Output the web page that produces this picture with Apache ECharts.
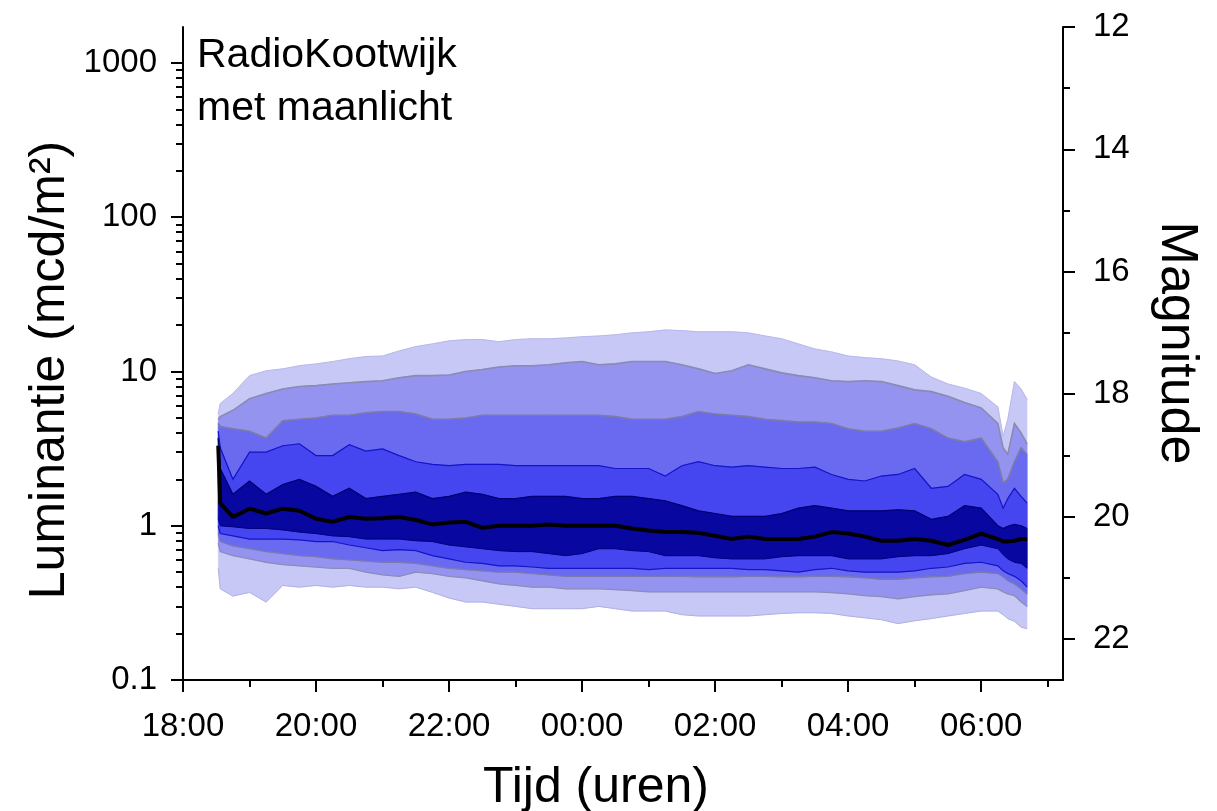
<!DOCTYPE html>
<html><head><meta charset="utf-8">
<script src="https://cdn.jsdelivr.net/npm/echarts@6/dist/echarts.min.js"></script>
<style>html,body{margin:0;padding:0;background:#fff}#c{width:1217px;height:811px}</style>
</head><body><div id="c"></div>
<script>
// time axis: hours after 18:00
const hours = [0.53, 0.56, 0.75, 1.0, 1.25, 1.5, 1.75, 2.0, 2.25, 2.5, 2.75, 3.0, 3.25, 3.5, 3.75, 4.0, 4.25, 4.5, 4.75, 5.0, 5.25, 5.5, 5.75, 6.0, 6.25, 6.5, 6.75, 7.0, 7.25, 7.5, 7.75, 8.0, 8.25, 8.5, 8.75, 9.0, 9.25, 9.5, 9.75, 10.0, 10.25, 10.5, 10.75, 11.0, 11.25, 11.5, 11.75, 12.0, 12.25, 12.33, 12.4, 12.5, 12.6, 12.69];

// luminance band edges (mcd/m2), outer to inner
const bandA_lo = [0.53, 0.39, 0.35, 0.37, 0.32, 0.41, 0.4, 0.41, 0.4, 0.41, 0.4, 0.4, 0.39, 0.4, 0.37, 0.34, 0.32, 0.32, 0.31, 0.3, 0.29, 0.29, 0.29, 0.29, 0.3, 0.29, 0.28, 0.28, 0.28, 0.265, 0.26, 0.26, 0.26, 0.26, 0.265, 0.27, 0.273, 0.273, 0.27, 0.26, 0.253, 0.246, 0.232, 0.242, 0.25, 0.26, 0.27, 0.28, 0.28, 0.265, 0.25, 0.24, 0.22, 0.215];
const bandB_lo = [0.77, 0.68, 0.64, 0.61, 0.58, 0.56, 0.55, 0.54, 0.53, 0.53, 0.5, 0.48, 0.47, 0.5, 0.49, 0.47, 0.46, 0.44, 0.42, 0.41, 0.4, 0.4, 0.39, 0.39, 0.39, 0.385, 0.38, 0.373, 0.373, 0.373, 0.373, 0.373, 0.373, 0.373, 0.373, 0.373, 0.373, 0.373, 0.368, 0.362, 0.352, 0.347, 0.336, 0.347, 0.357, 0.362, 0.38, 0.4, 0.39, 0.373, 0.362, 0.352, 0.322, 0.3];
const bandC_lo = [0.89, 0.79, 0.74, 0.71, 0.68, 0.66, 0.64, 0.63, 0.61, 0.6, 0.59, 0.58, 0.58, 0.57, 0.55, 0.53, 0.52, 0.51, 0.5, 0.5, 0.49, 0.48, 0.47, 0.47, 0.47, 0.47, 0.47, 0.47, 0.47, 0.47, 0.467, 0.467, 0.467, 0.47, 0.47, 0.467, 0.467, 0.47, 0.47, 0.467, 0.46, 0.45, 0.45, 0.46, 0.467, 0.47, 0.49, 0.5, 0.49, 0.467, 0.44, 0.42, 0.39, 0.36];
const bandD_lo = [1.0, 0.89, 0.86, 0.82, 0.82, 0.82, 0.81, 0.79, 0.79, 0.75, 0.72, 0.69, 0.7, 0.69, 0.64, 0.61, 0.58, 0.57, 0.55, 0.55, 0.54, 0.53, 0.53, 0.53, 0.53, 0.53, 0.53, 0.52, 0.53, 0.53, 0.53, 0.53, 0.53, 0.52, 0.52, 0.51, 0.5, 0.52, 0.53, 0.51, 0.5, 0.5, 0.5, 0.51, 0.53, 0.54, 0.57, 0.58, 0.55, 0.51, 0.49, 0.47, 0.44, 0.4];
const bandE_lo = [1.11, 1.0, 0.985, 0.96, 0.96, 0.94, 0.91, 0.89, 0.86, 0.85, 0.82, 0.82, 0.82, 0.8, 0.79, 0.75, 0.73, 0.71, 0.69, 0.68, 0.68, 0.66, 0.64, 0.66, 0.71, 0.71, 0.69, 0.68, 0.64, 0.64, 0.64, 0.62, 0.61, 0.61, 0.61, 0.63, 0.64, 0.64, 0.64, 0.61, 0.61, 0.61, 0.63, 0.64, 0.64, 0.66, 0.71, 0.75, 0.71, 0.65, 0.61, 0.58, 0.57, 0.53];
const bandE_hi = [3.7, 2.35, 1.6, 1.95, 1.6, 1.85, 2.0, 1.8, 1.55, 1.75, 1.5, 1.55, 1.6, 1.65, 1.5, 1.55, 1.65, 1.6, 1.5, 1.5, 1.55, 1.55, 1.55, 1.5, 1.5, 1.55, 1.55, 1.5, 1.45, 1.35, 1.25, 1.2, 1.15, 1.15, 1.15, 1.2, 1.3, 1.35, 1.3, 1.25, 1.25, 1.25, 1.27, 1.25, 1.1, 1.15, 1.35, 1.3, 1.0, 0.96, 0.99, 1.02, 1.0, 0.96];
const bandD_hi = [4.1, 3.2, 2.0, 3.0, 3.0, 3.3, 3.4, 2.85, 2.85, 3.35, 3.05, 3.15, 2.85, 2.6, 2.5, 2.45, 2.5, 2.5, 2.5, 2.45, 2.45, 2.45, 2.45, 2.45, 2.45, 2.35, 2.35, 2.35, 2.1, 2.45, 2.6, 2.45, 2.4, 2.45, 2.4, 2.35, 2.35, 2.4, 2.15, 2.0, 1.95, 2.1, 2.15, 2.35, 1.75, 1.8, 2.15, 2.0, 1.6, 1.3, 1.5, 1.75, 1.55, 1.4];
const bandC_hi = [4.6, 4.4, 4.25, 4.1, 3.7, 4.8, 4.9, 5.0, 5.2, 5.2, 5.4, 5.5, 5.5, 5.3, 4.9, 4.9, 5.0, 5.2, 5.2, 5.2, 5.2, 5.2, 5.2, 5.2, 5.2, 5.1, 4.9, 4.9, 4.9, 5.1, 5.5, 5.3, 5.2, 5.1, 4.9, 4.8, 4.7, 4.7, 4.6, 4.25, 4.1, 4.1, 4.3, 4.6, 4.25, 3.7, 3.5, 3.7, 2.6, 1.9, 2.0, 2.6, 3.2, 2.9];
const bandB_hi = [4.9, 5.1, 5.6, 6.65, 7.2, 7.7, 8.0, 8.1, 8.3, 8.45, 8.6, 8.7, 9.1, 9.4, 9.4, 9.5, 10.0, 10.3, 10.7, 10.9, 10.9, 11.05, 11.4, 11.6, 11.05, 11.2, 11.6, 11.6, 11.6, 11.05, 10.4, 9.7, 10.1, 11.05, 10.4, 9.8, 9.4, 9.1, 8.7, 8.6, 8.7, 8.6, 8.1, 7.6, 7.4, 6.9, 6.3, 5.8, 4.6, 3.2, 2.9, 4.6, 4.0, 3.4];
const bandA_hi = [5.3, 6.2, 7.2, 9.4, 10.1, 10.4, 10.9, 11.2, 11.6, 12.1, 12.5, 12.6, 13.6, 14.5, 15.1, 15.8, 16.1, 16.1, 15.6, 16.1, 16.3, 16.3, 16.5, 16.8, 17.0, 17.3, 17.8, 18.1, 18.6, 18.4, 18.1, 18.1, 18.1, 17.8, 17.0, 16.3, 15.1, 14.0, 13.4, 12.6, 12.3, 12.1, 11.7, 11.05, 9.2, 8.3, 7.8, 7.2, 5.9, 3.8, 4.9, 8.6, 7.7, 6.6];
const median = [3.3, 1.4, 1.14, 1.29, 1.2, 1.29, 1.25, 1.11, 1.06, 1.14, 1.11, 1.12, 1.14, 1.09, 1.02, 1.05, 1.06, 0.97, 1.0, 1.0, 1.0, 1.02, 1.0, 1.0, 1.0, 1.0, 0.96, 0.93, 0.91, 0.91, 0.9, 0.86, 0.82, 0.85, 0.82, 0.82, 0.82, 0.85, 0.91, 0.89, 0.85, 0.8, 0.8, 0.82, 0.8, 0.75, 0.81, 0.89, 0.82, 0.79, 0.79, 0.8, 0.82, 0.82];

// ticks
const xTickHours = [0, 2, 4, 6, 8, 10, 12];
const xTickLabels = ['18:00', '20:00', '22:00', '00:00', '02:00', '04:00', '06:00'];
const xMinorHours = [1, 3, 5, 7, 9, 11, 13];
const yTickValues = [0.1, 1, 10, 100, 1000];
const yTickLabels = ['0.1', '1', '10', '100', '1000'];
const yMinorValues = [0.2,0.3,0.4,0.5,0.6,0.7,0.8,0.9, 2,3,4,5,6,7,8,9, 20,30,40,50,60,70,80,90, 200,300,400,500,600,700,800,900];
const magTicks = [12, 14, 16, 18, 20, 22];
const magMinor = [13, 15, 17, 19, 21];

const X_MAX = 13.23, Y_MIN = 0.1, Y_MAX = 1711, MAG_MIN = 12, MAG_MAX = 22.67;
const FONT = '"Liberation Sans", Arial, sans-serif';

const bands = [
  {lo: bandA_lo, hi: bandA_hi, fill: '#c8c8f6', loEdge: {c: '#b0b0e4', w: 1}, hiEdge: {c: '#b8b8ec', w: 1}},
  {lo: bandB_lo, hi: bandB_hi, fill: '#9494f0', loEdge: {c: '#8c8cb8', w: 1.3}, hiEdge: {c: '#8a8ab2', w: 1.6}},
  {lo: bandC_lo, hi: bandC_hi, fill: '#6a6af0', loEdge: {c: '#7a7ab0', w: 1.3}, hiEdge: {c: '#7c7ca6', w: 1.6}},
  {lo: bandD_lo, hi: bandD_hi, fill: '#4646f0', loEdge: {c: '#1414c8', w: 1.2}, hiEdge: {c: '#1414c8', w: 1.2}},
  {lo: bandE_lo, hi: bandE_hi, fill: '#0808a0', loEdge: {c: '#000080', w: 1}, hiEdge: {c: '#000070', w: 1.2}}
];

function bandRenderer(b) {
  return function (params, api) {
    const top = hours.map((h, i) => api.coord([h, b.hi[i]]));
    const bot = hours.map((h, i) => api.coord([h, b.lo[i]]));
    const poly = top.concat(bot.slice().reverse());
    return {
      type: 'group',
      children: [
        {type: 'polygon', shape: {points: poly}, style: {fill: b.fill, stroke: b.fill, lineWidth: 0.5}},
        {type: 'polyline', shape: {points: top}, style: {stroke: b.hiEdge.c, lineWidth: b.hiEdge.w, fill: null}},
        {type: 'polyline', shape: {points: bot}, style: {stroke: b.loEdge.c, lineWidth: b.loEdge.w, fill: null}}
      ]
    };
  };
}

const series = bands.map((b, k) => ({
  type: 'custom', xAxisIndex: 0, yAxisIndex: 0, silent: true, animation: false,
  renderItem: bandRenderer(b), data: [[hours[0], b.hi[0]]], z: 2 + k * 0.01, clip: true
}));
series.push({
  type: 'line', xAxisIndex: 0, yAxisIndex: 0, symbol: 'none', showSymbol: false, silent: true, animation: false,
  data: hours.map((h, i) => [h, median[i]]), lineStyle: {color: '#000', width: 4}, z: 5
});

const axisLineStyle = {color: '#000', width: 2};
const labelStyle = {color: '#000', fontSize: 33, fontFamily: FONT};

const option = {
  animation: false,
  backgroundColor: '#fff',
  grid: {left: 183, right: 154, top: 27, bottom: 131, containLabel: false},
  xAxis: [
    {type: 'value', min: 0, max: X_MAX, position: 'bottom', z: 10,
     axisLine: {show: true, onZero: false, lineStyle: axisLineStyle},
     axisTick: {show: true, customValues: xTickHours, length: 12, lineStyle: axisLineStyle},
     axisLabel: Object.assign({customValues: xTickHours, margin: 30,
       formatter: v => { const i = xTickHours.indexOf(Math.round(v)); return i >= 0 ? xTickLabels[i] : ''; }}, labelStyle),
     splitLine: {show: false}},
    {type: 'value', min: 0, max: X_MAX, position: 'bottom', z: 10,
     axisLine: {show: false, onZero: false},
     axisTick: {show: true, customValues: xMinorHours, length: 7, lineStyle: axisLineStyle},
     axisLabel: {show: false}, splitLine: {show: false}}
  ],
  yAxis: [
    {type: 'log', logBase: 10, min: Y_MIN, max: Y_MAX, position: 'left', z: 10,
     axisLine: {show: true, onZero: false, lineStyle: axisLineStyle},
     axisTick: {show: false}, axisLabel: {show: false}, splitLine: {show: false}},
    {type: 'value', min: Math.log10(Y_MIN), max: Math.log10(Y_MAX), position: 'left', z: 10,
     axisLine: {show: false, onZero: false},
     axisTick: {show: true, customValues: yTickValues.map(Math.log10), length: 12, lineStyle: axisLineStyle},
     axisLabel: Object.assign({customValues: yTickValues.map(Math.log10), margin: 26,
       formatter: v => { const i = Math.round(v) + 1; return yTickLabels[i] || ''; }}, labelStyle),
     splitLine: {show: false}},
    {type: 'value', min: Math.log10(Y_MIN), max: Math.log10(Y_MAX), position: 'left', z: 10,
     axisLine: {show: false, onZero: false},
     axisTick: {show: true, customValues: yMinorValues.map(Math.log10), length: 7, lineStyle: axisLineStyle},
     axisLabel: {show: false}, splitLine: {show: false}},
    {type: 'value', min: MAG_MIN, max: MAG_MAX, inverse: true, position: 'right', z: 10,
     axisLine: {show: true, onZero: false, lineStyle: axisLineStyle},
     axisTick: {show: true, customValues: magTicks, length: 12, lineStyle: axisLineStyle},
     axisLabel: Object.assign({customValues: magTicks, margin: 30, formatter: v => String(Math.round(v))}, labelStyle),
     splitLine: {show: false}},
    {type: 'value', min: MAG_MIN, max: MAG_MAX, inverse: true, position: 'right', z: 10,
     axisLine: {show: false, onZero: false},
     axisTick: {show: true, customValues: magMinor, length: 7, lineStyle: axisLineStyle},
     axisLabel: {show: false}, splitLine: {show: false}}
  ],
  graphic: [
    {type: 'text', x: 197, y: 56, style: {text: 'RadioKootwijk', fontSize: 41, fontFamily: FONT, fill: '#000', align: 'left', verticalAlign: 'middle'}},
    {type: 'text', x: 197, y: 109, style: {text: 'met maanlicht', fontSize: 41, fontFamily: FONT, fill: '#000', align: 'left', verticalAlign: 'middle'}},
    {type: 'text', x: 50, y: 370, rotation: Math.PI / 2, style: {text: 'Luminantie (mcd/m²)', fontSize: 50, fontFamily: FONT, fill: '#000', align: 'center', verticalAlign: 'middle'}},
    {type: 'text', x: 1176, y: 343, rotation: -Math.PI / 2, style: {text: 'Magnitude', fontSize: 52, fontFamily: FONT, fill: '#000', align: 'center', verticalAlign: 'middle'}},
    {type: 'text', x: 596, y: 788, style: {text: 'Tijd (uren)', fontSize: 50, fontFamily: FONT, fill: '#000', align: 'center', verticalAlign: 'middle'}}
  ],
  series: series
};

const chart = echarts.init(document.getElementById('c'), null, {renderer: 'canvas'});
chart.setOption(option);
</script>
</body></html>
